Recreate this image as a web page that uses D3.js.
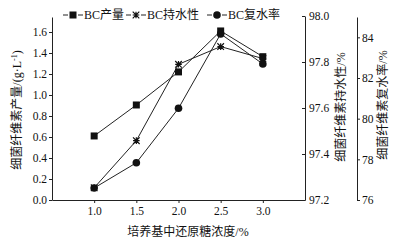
<!DOCTYPE html>
<html>
<head>
<meta charset="utf-8">
<script src="https://cdn.jsdelivr.net/npm/d3@7"></script>
<style>
    body { margin: 0; background: #fff; }
    svg text { font-family: "Liberation Serif", "Noto Sans CJK SC", serif; fill: #111; }
    .domain, .tick line { stroke: #222; }
</style>
</head>
<body>
<div id="vis"></div>
<script>
// sugar concentration in medium (%)
var conc = [ 1.0, 1.5, 2.0, 2.5, 3.0 ];
// BC yield (g/L), left axis
var yieldVals = [ 0.61, 0.905, 1.22, 1.61, 1.365 ];
// water holding capacity (%), first right axis
var holdVals = [ 97.253, 97.458, 97.79, 97.867, 97.815 ];
// rehydration rate (%), second right axis
var rehydVals = [ 76.59, 77.83, 80.51, 84.17, 82.69 ];

var xTicks = [ 1.0, 1.5, 2.0, 2.5, 3.0 ];
var yTicks = [ 0.0, 0.2, 0.4, 0.6, 0.8, 1.0, 1.2, 1.4, 1.6 ];
var holdTicks = [ 97.2, 97.4, 97.6, 97.8, 98.0 ];
var rehydTicks = [ 76, 78, 80, 82, 84 ];

var seriesNames = [ "BC产量", "BC持水性", "BC复水率" ];

// plot box (note: "top" is reserved on window, so use prefixed names)
var W = 396, H = 242;
var pLeft = 52, pRight = 305, pTop = 17, pBottom = 200;

var svg = d3.select( "#vis" ).append( "svg" )
    .attr( "width", W )
    .attr( "height", H );

// scales
var x = d3.scaleLinear().domain( [ 0.5, 3.5 ] ).range( [ pLeft, pRight ] );
var y = d3.scaleLinear().domain( [ 0, 1.743 ] ).range( [ pBottom, pTop ] );
var yHold = d3.scaleLinear().domain( [ 97.2, 98.0 ] ).range( [ pBottom, 16 ] );
var yRehyd = d3.scaleLinear().domain( [ 76, 85 ] ).range( [ pBottom, pTop ] );

var fmt1 = d3.format( ".1f" );

// x axis
svg.append( "g" )
    .attr( "transform", "translate(0," + pBottom + ")" )
    .call( d3.axisBottom( x ).tickValues( xTicks ).tickFormat( fmt1 ).tickSize( 3 ).tickPadding( 4 ).tickSizeOuter( 0 ) );

// left axis
svg.append( "g" )
    .attr( "transform", "translate(" + pLeft + ",0)" )
    .call( d3.axisLeft( y ).tickValues( yTicks ).tickFormat( fmt1 ).tickSize( 3 ).tickPadding( 2 ).tickSizeOuter( 0 ) );

// first right axis, ticks point inward
svg.append( "g" )
    .attr( "transform", "translate(" + pRight + ",0)" )
    .call( d3.axisRight( yHold ).tickValues( holdTicks ).tickFormat( fmt1 ).tickSize( -3 ).tickPadding( 4 ).tickSizeOuter( 0 ) );

// second right axis
svg.append( "g" )
    .attr( "transform", "translate(357,0)" )
    .call( d3.axisRight( yRehyd ).tickValues( rehydTicks ).tickSize( 3 ).tickPadding( 2 ).tickSizeOuter( 0 ) );

svg.selectAll( "g" ).attr( "font-family", null ).attr( "font-size", null );
svg.selectAll( ".tick text" ).style( "font-size", "11.5px" );

// axis titles
svg.append( "text" )
    .attr( "transform", "translate(21,110) rotate(-90)" )
    .style( "text-anchor", "middle" )
    .style( "font-size", "12px" )
    .html( "细菌纤维素产量/(g·L<tspan dy='-4' font-size='8px'>-1</tspan><tspan dy='4'>)</tspan>" );

svg.append( "text" )
    .attr( "transform", "translate(345,107) rotate(-90)" )
    .style( "text-anchor", "middle" )
    .style( "font-size", "12px" )
    .text( "细菌纤维素持水性/%" );

svg.append( "text" )
    .attr( "transform", "translate(387,105) rotate(-90)" )
    .style( "text-anchor", "middle" )
    .style( "font-size", "12px" )
    .text( "细菌纤维素复水率/%" );

svg.append( "text" )
    .attr( "x", 188 )
    .attr( "y", 236 )
    .style( "text-anchor", "middle" )
    .style( "font-size", "12px" )
    .text( "培养基中还原糖浓度/%" );

// marker drawing
function drawMarker( g, kind, cx, cy )
{
    if( kind == 0 )
        g.append( "rect" ).attr( "x", cx - 3.5 ).attr( "y", cy - 3.5 )
            .attr( "width", 7 ).attr( "height", 7 ).attr( "fill", "#111" );
    else if( kind == 2 )
        g.append( "circle" ).attr( "cx", cx ).attr( "cy", cy ).attr( "r", 3.8 ).attr( "fill", "#111" );
    else
    {
        var r = 3.3;
        g.append( "path" )
            .attr( "d", "M" + (cx - r) + "," + (cy - r) + "L" + (cx + r) + "," + (cy + r) +
                        "M" + (cx - r) + "," + (cy + r) + "L" + (cx + r) + "," + (cy - r) +
                        "M" + cx + "," + (cy - r) + "L" + cx + "," + (cy + r) +
                        "M" + (cx - r) + "," + cy + "L" + (cx + r) + "," + cy )
            .attr( "stroke", "#111" ).attr( "stroke-width", 1.2 ).attr( "fill", "none" );
    }
}

// series
var series = [
    { vals: yieldVals, sc: y },
    { vals: holdVals, sc: yHold },
    { vals: rehydVals, sc: yRehyd }
];

series.forEach( function( s, k ) {
    var line = d3.line()
        .x( function( d, i ) { return x( conc[ i ] ); } )
        .y( function( d ) { return s.sc( d ); } );
    svg.append( "path" )
        .datum( s.vals )
        .attr( "d", line )
        .attr( "fill", "none" )
        .attr( "stroke", "#222" )
        .attr( "stroke-width", 1 );
});

series.forEach( function( s, k ) {
    var g = svg.append( "g" );
    s.vals.forEach( function( d, i ) {
        drawMarker( g, k, x( conc[ i ] ), s.sc( d ) );
    });
});

// legend: short dash, marker, short dash
var legX = [ 63, 126, 207 ];
seriesNames.forEach( function( name, k ) {
    var g = svg.append( "g" );
    g.append( "line" )
        .attr( "x1", legX[ k ] ).attr( "x2", legX[ k ] + 5 )
        .attr( "y1", 15 ).attr( "y2", 15 )
        .attr( "stroke", "#222" ).attr( "stroke-width", 1 );
    g.append( "line" )
        .attr( "x1", legX[ k ] + 15 ).attr( "x2", legX[ k ] + 20 )
        .attr( "y1", 15 ).attr( "y2", 15 )
        .attr( "stroke", "#222" ).attr( "stroke-width", 1 );
    drawMarker( g, k, legX[ k ] + 10, 15 );
    g.append( "text" )
        .attr( "x", legX[ k ] + 21 )
        .attr( "y", 19 )
        .style( "font-size", "12px" )
        .text( name );
});
</script>
</body>
</html>
